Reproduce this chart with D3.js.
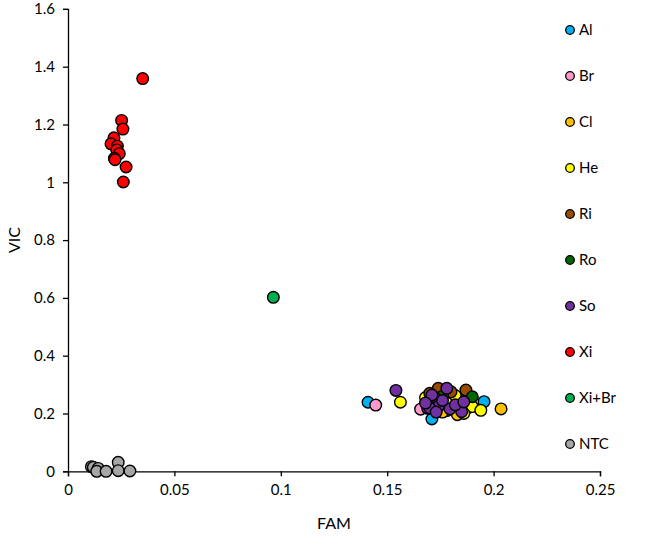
<!DOCTYPE html>
<html>
<head>
<meta charset="utf-8">
<script src="https://cdn.jsdelivr.net/npm/d3@7"></script>
<style>
    body { margin: 0; background: #fff; }
    text { font-family: Lato, "Open Sans", sans-serif; fill: #000; }
</style>
</head>
<body>
<svg id="chart" width="646" height="538"></svg>
<script>
// series names and colours, in Excel draw order
var seriesNames = ["Al", "Br", "Cl", "He", "Ri", "Ro", "So", "Xi", "Xi+Br", "NTC"];
var seriesColors = ["#00b0f0", "#ff99cc", "#ffc000", "#ffff00", "#994c00",
    "#006600", "#7030a0", "#ff0000", "#00b050", "#a6a6a6"];

// [FAM, VIC] pairs
var alData = [[0.141, 0.239], [0.1955, 0.241], [0.171, 0.181], [0.178, 0.21], [0.183, 0.25]];
var brData = [[0.1446, 0.229], [0.1657, 0.215], [0.175, 0.23], [0.180, 0.245]];
var clData = [[0.2035, 0.216], [0.183, 0.196], [0.176, 0.205], [0.188, 0.22]];
var heData = [[0.1562, 0.239], [0.182, 0.262], [0.190, 0.224], [0.194, 0.211],
    [0.168, 0.255], [0.186, 0.200], [0.178, 0.236]];
var riData = [[0.174, 0.287], [0.187, 0.281], [0.170, 0.270], [0.180, 0.275]];
var roData = [[0.190, 0.258], [0.176, 0.260], [0.184, 0.228]];
var soData = [[0.1541, 0.280], [0.178, 0.287], [0.172, 0.258], [0.174, 0.224],
    [0.1795, 0.216], [0.185, 0.206], [0.169, 0.218], [0.171, 0.264], [0.170, 0.219],
    [0.176, 0.245], [0.182, 0.230], [0.168, 0.236], [0.173, 0.205], [0.186, 0.240]];
var xiData = [[0.0351, 1.359], [0.0252, 1.214], [0.0258, 1.184], [0.0216, 1.154],
    [0.0202, 1.133], [0.0232, 1.125], [0.0229, 1.112], [0.0241, 1.099], [0.0218, 1.083],
    [0.0221, 1.078], [0.0273, 1.053], [0.0260, 1.001]];
var xiBrData = [[0.0965, 0.602]];
var ntcData = [[0.011, 0.016], [0.0119, 0.014], [0.0142, 0.010], [0.0135, 0.0],
    [0.0179, 0.0], [0.0236, 0.031], [0.0236, 0.002], [0.0291, 0.001]];

var xTicks = [0, 0.05, 0.1, 0.15, 0.2, 0.25];
var yTicks = [0, 0.2, 0.4, 0.6, 0.8, 1, 1.2, 1.4, 1.6];

window.onload = function()
{
    main();
};

function main()
{
    var svg = d3.select("#chart"),
        allData = [alData, brData, clData, heData, riData, roData, soData, xiData, xiBrData, ntcData],
        x = d3.scaleLinear().domain([0, 0.25]).range([68, 600]),
        y = d3.scaleLinear().domain([0, 1.6]).range([471.3, 8.9]);

    // x axis
    var gx = svg.append("g")
        .attr("transform", "translate(0," + y(0) + ")")
        .call(d3.axisBottom(x).tickValues(xTicks).tickSize(5).tickPadding(8)
            .tickFormat(function(d) { return String(d); }));

    // y axis
    var gy = svg.append("g")
        .attr("transform", "translate(" + x(0) + ",0)")
        .call(d3.axisLeft(y).tickValues(yTicks).tickSize(5).tickPadding(8)
            .tickFormat(function(d) { return String(d); }));

    [gx, gy].forEach(function(g)
    {
        g.select(".domain").attr("stroke", "#000").attr("stroke-width", 1.3);
        g.selectAll(".tick line").attr("stroke", "#000").attr("stroke-width", 1.3);
        g.selectAll(".tick text").style("font-size", "15px")
            .style("font-family", "Lato, 'Open Sans', sans-serif").attr("fill", "#000");
    });

    // axis titles
    svg.append("text")
        .attr("x", (x(0) + x(0.25)) / 2)
        .attr("y", 529)
        .attr("text-anchor", "middle")
        .style("font-size", "16px")
        .text("FAM");

    svg.append("text")
        .attr("transform", "translate(20," + (y(0) + y(1.6)) / 2 + ") rotate(-90)")
        .attr("text-anchor", "middle")
        .style("font-size", "16px")
        .text("VIC");

    // points, one group per series
    allData.forEach(function(data, i)
    {
        svg.append("g")
            .selectAll("circle")
            .data(data)
            .enter().append("circle")
            .attr("cx", function(d) { return x(d[0]); })
            .attr("cy", function(d) { return y(d[1]); })
            .attr("r", 5.8)
            .attr("fill", seriesColors[i])
            .attr("stroke", "#000")
            .attr("stroke-width", 1.4);
    });

    // legend
    var legend = svg.append("g")
        .selectAll("g")
        .data(seriesNames)
        .enter().append("g")
        .attr("transform", function(d, i) { return "translate(570," + (30 + i * 46) + ")"; });

    legend.append("circle")
        .attr("r", 4.3)
        .attr("fill", function(d, i) { return seriesColors[i]; })
        .attr("stroke", "#000")
        .attr("stroke-width", 1.3);

    legend.append("text")
        .attr("x", 9)
        .attr("dy", "0.35em")
        .style("font-size", "15px")
        .text(function(d) { return d; });
}
</script>
</body>
</html>
